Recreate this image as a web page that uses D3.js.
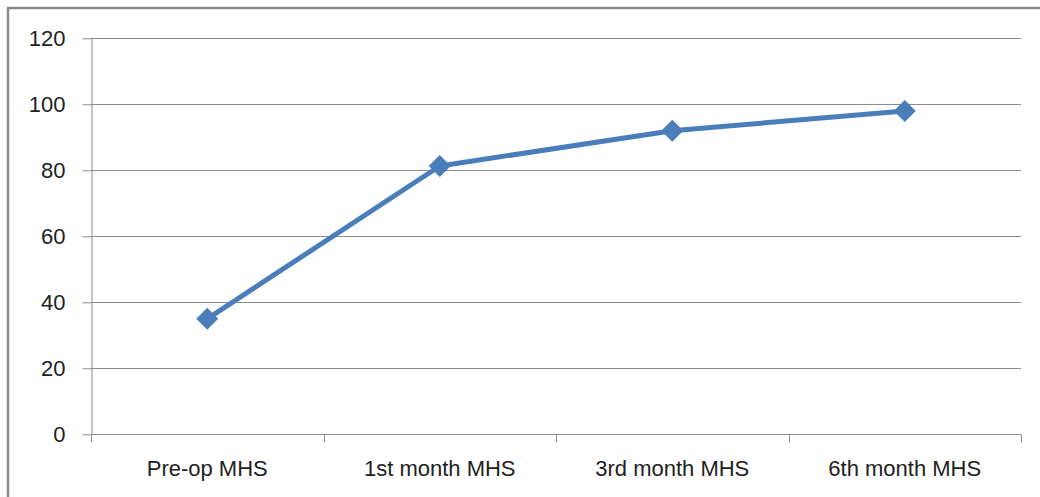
<!DOCTYPE html>
<meta charset="utf-8">
<style>
  body { margin: 0; background: #fff; }
  svg text { font-family: "Liberation Sans", Arial, sans-serif; fill: #222; }
  .grid line { stroke: #8c8c8c; stroke-width: 1px; }
  .axis path, .axis line { stroke: #8c8c8c; }
</style>
<svg width="1040" height="497"></svg>
<script src="https://cdn.jsdelivr.net/npm/d3@7"></script>
<script>
  var categories = ["Pre-op MHS", "1st month MHS", "3rd month MHS", "6th month MHS"];
  var values = [35, 81.3, 92, 98];
  var yTicks = [0, 20, 40, 60, 80, 100, 120];

  var svg = d3.select("svg");

  // outer frame (only top and left edge show in the picture)
  svg.append("rect")
    .attr("x", 8).attr("y", 8)
    .attr("width", 1100).attr("height", 600)
    .attr("fill", "none")
    .attr("stroke", "#8a8a8a")
    .attr("stroke-width", 2.5);

  var plot = { left: 91, right: 1021, top: 38.3, bottom: 434.3 };

  var x = d3.scaleBand().domain(categories).range([plot.left, plot.right]);
  var y = d3.scaleLinear().domain([0, 120]).range([plot.bottom, plot.top]);

  // horizontal gridlines
  svg.append("g").attr("class", "grid")
    .selectAll("line")
    .data(yTicks.filter(function(d) { return d > 0; }))
    .enter().append("line")
    .attr("x1", plot.left).attr("x2", plot.right)
    .attr("y1", function(d) { return Math.round(y(d)) + 0.5; })
    .attr("y2", function(d) { return Math.round(y(d)) + 0.5; });

  // y axis
  var yAxis = svg.append("g").attr("class", "axis")
    .attr("transform", "translate(" + (plot.left + 0.5) + ",0)")
    .call(d3.axisLeft(y).tickValues(yTicks).tickSize(9).tickSizeOuter(0).tickPadding(17));
  yAxis.selectAll("text").style("font-size", "22px").attr("fill", "#222");

  // x axis, ticks at band edges
  var xAxis = svg.append("g").attr("class", "axis")
    .attr("transform", "translate(0," + (Math.round(plot.bottom) + 0.5) + ")");
  xAxis.append("line")
    .attr("x1", plot.left).attr("x2", plot.right)
    .attr("stroke", "#8c8c8c");
  var edges = categories.map(function(c) { return x(c); }).concat([plot.right]);
  xAxis.selectAll(".edge").data(edges).enter().append("line")
    .attr("class", "edge")
    .attr("x1", function(d) { return Math.round(d) + 0.5; })
    .attr("x2", function(d) { return Math.round(d) + 0.5; })
    .attr("y1", 0).attr("y2", 8)
    .attr("stroke", "#8c8c8c");
  xAxis.selectAll("text").data(categories).enter().append("text")
    .attr("x", function(d) { return x(d) + x.bandwidth() / 2; })
    .attr("y", 41)
    .attr("text-anchor", "middle")
    .style("font-size", "22px")
    .text(function(d) { return d; });

  var pts = categories.map(function(c, i) { return [x(c) + x.bandwidth() / 2, y(values[i])]; });

  svg.append("path")
    .datum(pts)
    .attr("d", d3.line())
    .attr("fill", "none")
    .attr("stroke", "#4a7ebb")
    .attr("stroke-width", 5)
    .attr("stroke-linejoin", "round");

  svg.selectAll(".marker").data(pts).enter().append("path")
    .attr("class", "marker")
    .attr("transform", function(d) { return "translate(" + d[0] + "," + d[1] + ")"; })
    .attr("d", "M0,-11L11,0L0,11L-11,0Z")
    .attr("fill", "#4a7ebb");
</script>
